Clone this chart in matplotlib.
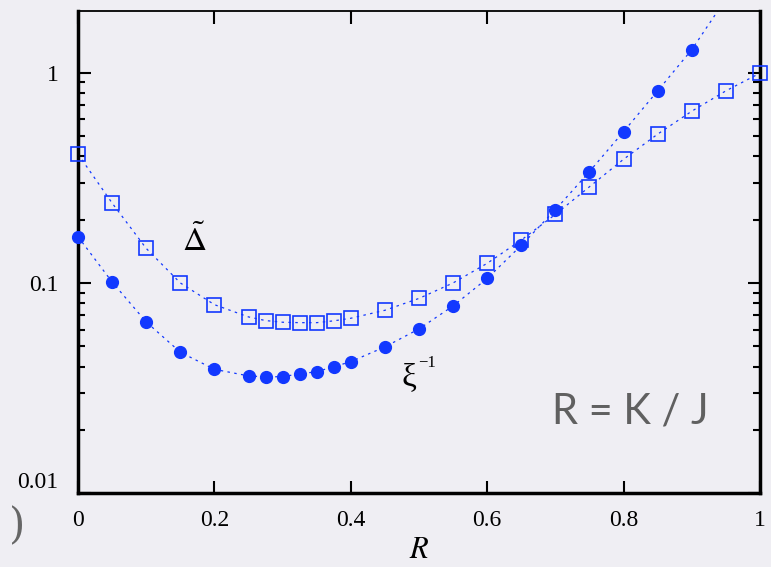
import numpy as np
import matplotlib.pyplot as plt

# ratio R = K / J
R_xi = [0.0, 0.05, 0.1, 0.15, 0.2, 0.25, 0.275, 0.3, 0.325, 0.35, 0.375, 0.4,
        0.45, 0.5, 0.55, 0.6, 0.65, 0.7, 0.75, 0.8, 0.85, 0.9]
inv_xi = [0.166, 0.101, 0.0652, 0.0468, 0.0388, 0.0361, 0.0357, 0.0358, 0.0369,
          0.0378, 0.0399, 0.0422, 0.0496, 0.0604, 0.0777, 0.105, 0.151, 0.223,
          0.339, 0.525, 0.821, 1.29]
# the guide curve through the inverse correlation length runs on past the top
R_xi_tail = [0.9, 0.95]
inv_xi_tail = [1.29, 2.25]

R_gap = [0.0, 0.05, 0.1, 0.15, 0.2, 0.25, 0.275, 0.3, 0.325, 0.35, 0.375, 0.4,
         0.45, 0.5, 0.55, 0.6, 0.65, 0.7, 0.75, 0.8, 0.85, 0.9, 0.95, 1.0]
gap = [0.410, 0.240, 0.146, 0.100, 0.0788, 0.0689, 0.0662, 0.0650, 0.0647,
       0.0647, 0.0660, 0.0679, 0.0741, 0.0844, 0.100, 0.124, 0.160, 0.212,
       0.287, 0.388, 0.511, 0.657, 0.821, 0.997]

xticks = [0, 0.2, 0.4, 0.6, 0.8, 1]
xticklabels = ['0', '0.2', '0.4', '0.6', '0.8', '1']
yticks = [0.01, 0.1, 1]
yticklabels = ['0.01', '0.1', '1']

bg = '#efeef3'
blue = '#1238ff'
serif = 'Liberation Serif'

plt.rcParams['mathtext.fontset'] = 'stix'
plt.rcParams['font.family'] = serif

fig = plt.figure(figsize=(7.71, 5.67), dpi=100, facecolor=bg)
ax = fig.add_axes([0.1012, 0.1305, 0.8845, 0.8501])
ax.set_facecolor(bg)

ax.plot(R_gap, gap, linestyle=(0, (2, 3.5)), color=blue, lw=0.9, zorder=2)
ax.plot(R_xi + R_xi_tail[1:], inv_xi + inv_xi_tail[1:], linestyle=(0, (2, 3.5)),
        color=blue, lw=0.9, zorder=2)
ax.plot(R_gap, gap, linestyle='none', marker='s', ms=9.5, mfc='none', mec=blue,
        mew=1.2, clip_on=False, zorder=3)
ax.plot(R_xi, inv_xi, linestyle='none', marker='o', ms=8.5, color=blue,
        clip_on=False, zorder=3)

ax.set_yscale('log')
ax.set_xlim(0, 1)
ax.set_ylim(0.01, 1.97)

ax.set_xticks(xticks)
ax.set_xticklabels(xticklabels, fontfamily=serif)
ax.set_yticks(yticks)
ax.set_yticklabels(yticklabels, fontfamily=serif)
ax.tick_params(which='major', direction='in', length=9, width=1.5,
               top=True, right=True, labelsize=17, pad=12)
ax.tick_params(which='minor', direction='in', length=5, width=1.5,
               top=True, right=True)
ax.tick_params(axis='y', which='major', pad=14)
for t in ax.get_yticklabels():
    if t.get_text() == '0.01':
        t.set_verticalalignment('bottom')

for side in ['left', 'right', 'bottom']:
    ax.spines[side].set_linewidth(2.5)
ax.spines['top'].set_linewidth(1.3)

ax.set_xlabel('$R$', fontsize=22, labelpad=4)

ax.text(0.17, 0.158, r'$\tilde{\mathit{\Delta}}$', fontsize=24,
        ha='center', va='center')
ax.text(0.485, 0.0355, 'ξ', fontsize=24, family=serif, ha='center',
        va='center')
ax.text(0.498, 0.0415, '−1', fontsize=12, family=serif, ha='left',
        va='center')
ax.text(0.81, 0.0245, 'R = K / J', fontsize=30, color='#606060',
        family='Lato', ha='center', va='center')

fig.text(0.012, 0.05, ')', fontsize=30, color='#666666', family='DejaVu Serif',
         fontweight='light')

fig.savefig('out.png', dpi=100, facecolor=bg)
